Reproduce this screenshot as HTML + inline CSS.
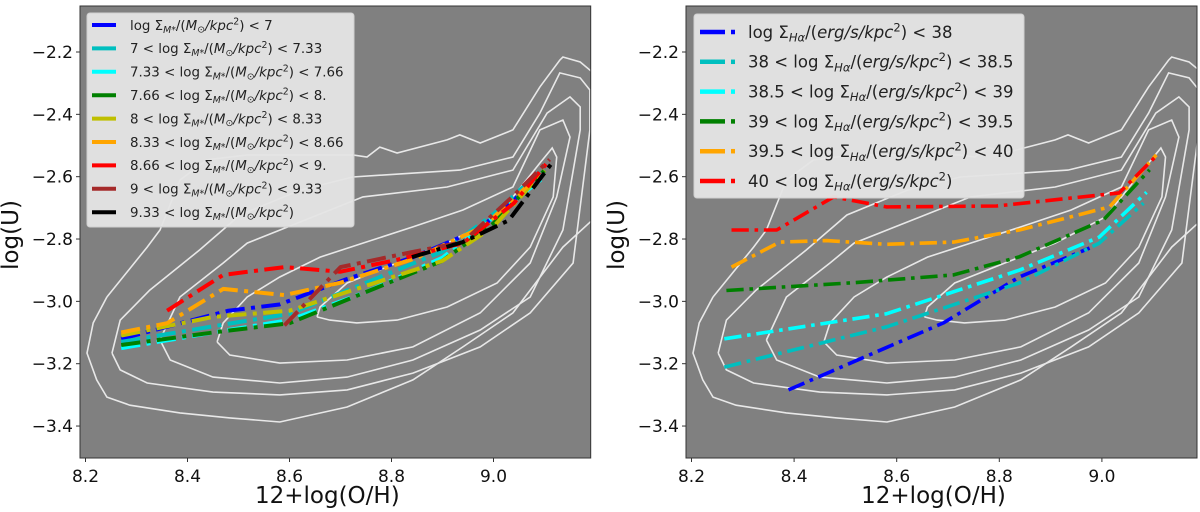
<!DOCTYPE html>
<html><head><meta charset="utf-8">
<style>
html,body{margin:0;padding:0;background:#fff;}
svg{display:block;font-family:"DejaVu Sans","Liberation Sans",sans-serif;}
</style></head>
<body>
<svg id="fig" width="1200" height="512" viewBox="0 0 1200 512" xmlns="http://www.w3.org/2000/svg">
<g id="left"></g>
<g id="right"></g>
</svg>
<script>
// ---- data ----
const xTicks = [8.2, 8.4, 8.6, 8.8, 9.0];
const xTickLabels = ["8.2", "8.4", "8.6", "8.8", "9.0"];
const yTicks = [-2.2, -2.4, -2.6, -2.8, -3.0, -3.2, -3.4];
const yTickLabels = ["\u22122.2", "\u22122.4", "\u22122.6", "\u22122.8", "\u22123.0", "\u22123.2", "\u22123.4"];

const contour1 = [[8.242,-2.986],[8.321,-2.826],[8.346,-2.771],[8.385,-2.611],[8.438,-2.546],[8.517,-2.530],[8.724,-2.530],[8.752,-2.537],[8.777,-2.505],[8.811,-2.524],[8.909,-2.482],[8.934,-2.466],[8.974,-2.492],[9.038,-2.450],[9.091,-2.312],[9.130,-2.226],[9.136,-2.216],[9.170,-2.232],[9.22,-2.30],[9.22,-2.70],[9.136,-2.826],[9.038,-3.037],[8.940,-3.146],[8.842,-3.252],[8.713,-3.339],[8.581,-3.387],[8.483,-3.374],[8.385,-3.358],[8.287,-3.333],[8.242,-3.307],[8.222,-3.252],[8.203,-3.166],[8.215,-3.069],[8.242,-2.986]];
const contour2 = [[8.252,-3.166],[8.268,-3.060],[8.326,-2.964],[8.424,-2.835],[8.503,-2.723],[8.621,-2.643],[8.724,-2.601],[8.934,-2.579],[9.038,-2.537],[9.091,-2.396],[9.130,-2.267],[9.170,-2.283],[9.189,-2.322],[9.189,-2.450],[9.156,-2.877],[9.072,-3.037],[8.974,-3.146],[8.842,-3.230],[8.713,-3.284],[8.581,-3.300],[8.450,-3.291],[8.321,-3.262],[8.268,-3.220],[8.252,-3.166]];
const contour3 = [[8.346,-3.124],[8.385,-2.986],[8.470,-2.877],[8.517,-2.813],[8.646,-2.729],[8.744,-2.665],[8.909,-2.633],[9.038,-2.579],[9.105,-2.396],[9.150,-2.344],[9.170,-2.376],[9.170,-2.450],[9.136,-2.771],[9.072,-2.986],[8.974,-3.092],[8.842,-3.188],[8.713,-3.243],[8.581,-3.262],[8.450,-3.243],[8.366,-3.188],[8.346,-3.124]];
const contour4 = [[8.458,-3.130],[8.470,-3.069],[8.517,-2.986],[8.581,-2.922],[8.660,-2.858],[8.744,-2.813],[8.842,-2.761],[8.940,-2.707],[9.038,-2.633],[9.091,-2.450],[9.136,-2.418],[9.150,-2.473],[9.124,-2.665],[9.072,-2.877],[8.974,-3.037],[8.842,-3.146],[8.713,-3.188],[8.581,-3.198],[8.483,-3.172],[8.458,-3.130]];
const contour5 = [[8.654,-3.050],[8.660,-3.018],[8.713,-2.941],[8.811,-2.877],[8.909,-2.813],[9.007,-2.729],[9.091,-2.556],[9.115,-2.508],[9.124,-2.537],[9.117,-2.665],[9.072,-2.826],[9.007,-2.941],[8.909,-3.018],[8.811,-3.060],[8.732,-3.069],[8.679,-3.060],[8.654,-3.050]];
const contours = [contour1, contour2, contour3, contour4, contour5];

// label token syntax: segments split by "|"; prefix s: subscript italic, p: superscript, o: odot subscript, i: italic
const mLabels = ["log \u03A3|s:M*|/(|i:M|o:\u2299|i:/kpc|p:2|) < 7","7 < log \u03A3|s:M*|/(|i:M|o:\u2299|i:/kpc|p:2|) < 7.33","7.33 < log \u03A3|s:M*|/(|i:M|o:\u2299|i:/kpc|p:2|) < 7.66","7.66 < log \u03A3|s:M*|/(|i:M|o:\u2299|i:/kpc|p:2|) < 8.","8 < log \u03A3|s:M*|/(|i:M|o:\u2299|i:/kpc|p:2|) < 8.33","8.33 < log \u03A3|s:M*|/(|i:M|o:\u2299|i:/kpc|p:2|) < 8.66","8.66 < log \u03A3|s:M*|/(|i:M|o:\u2299|i:/kpc|p:2|) < 9.","9 < log \u03A3|s:M*|/(|i:M|o:\u2299|i:/kpc|p:2|) < 9.33","9.33 < log \u03A3|s:M*|/(|i:M|o:\u2299|i:/kpc|p:2|)"];
const mColors = ["#0000ff","#00bfbf","#00ffff","#008000","#bfbf00","#ffa500","#ff0000","#a52a2a","#000000"];
const m0x = [8.27,8.48,8.58,8.71,8.84,8.97,9.05];
const m0y = [-3.12,-3.03,-3.01,-2.93,-2.86,-2.77,-2.66];
const m1x = [8.27,8.45,8.60,8.75,8.90,9.00,9.10];
const m1y = [-3.13,-3.08,-3.04,-2.94,-2.84,-2.72,-2.57];
const m2x = [8.27,8.45,8.60,8.75,8.90,9.00,9.10];
const m2y = [-3.15,-3.10,-3.06,-2.97,-2.86,-2.73,-2.60];
const m3x = [8.27,8.45,8.60,8.75,8.90,9.00,9.10];
const m3y = [-3.14,-3.10,-3.07,-2.97,-2.87,-2.75,-2.58];
const m4x = [8.27,8.45,8.60,8.75,8.90,9.00,9.10];
const m4y = [-3.11,-3.05,-3.03,-2.95,-2.87,-2.76,-2.58];
const m5x = [8.27,8.36,8.47,8.59,8.70,8.85,8.98,9.08];
const m5y = [-3.10,-3.07,-2.96,-2.98,-2.94,-2.86,-2.76,-2.61];
const m6x = [8.36,8.47,8.59,8.70,8.81,8.94,9.04,9.11];
const m6y = [-3.03,-2.915,-2.89,-2.905,-2.867,-2.813,-2.685,-2.546];
const m7x = [8.59,8.70,8.84,8.94,9.04,9.11];
const m7y = [-3.077,-2.89,-2.842,-2.81,-2.66,-2.545];
const m8x = [8.84,8.94,9.03,9.115];
const m8y = [-2.858,-2.81,-2.74,-2.555];
const mSeries = [[m0x,m0y],[m1x,m1y],[m2x,m2y],[m3x,m3y],[m4x,m4y],[m5x,m5y],[m6x,m6y],[m7x,m7y],[m8x,m8y]];

const hLabels = ["log \u03A3|s:H\u03B1|/(|i:erg/s/kpc|p:2|) < 38","38 < log \u03A3|s:H\u03B1|/(|i:erg/s/kpc|p:2|) < 38.5","38.5 < log \u03A3|s:H\u03B1|/(|i:erg/s/kpc|p:2|) < 39","39 < log \u03A3|s:H\u03B1|/(|i:erg/s/kpc|p:2|) < 39.5","39.5 < log \u03A3|s:H\u03B1|/(|i:erg/s/kpc|p:2|) < 40","40 < log \u03A3|s:H\u03B1|/(|i:erg/s/kpc|p:2|)"];
const hColors = ["#0000ff","#00bfbf","#00ffff","#008000","#ffa500","#ff0000"];
const h0x = [8.389,8.691,8.839,8.976];
const h0y = [-3.284,-3.069,-2.922,-2.829];
const h1x = [8.264,8.58,8.839,8.995,9.081];
const h1y = [-3.211,-3.082,-2.941,-2.813,-2.685];
const h2x = [8.264,8.58,8.839,8.995,9.087];
const h2y = [-3.12,-3.04,-2.90,-2.794,-2.65];
const h3x = [8.268,8.516,8.711,8.839,9.003,9.093];
const h3y = [-2.965,-2.94,-2.915,-2.857,-2.739,-2.578];
const h4x = [8.278,8.372,8.463,8.58,8.711,8.839,9.015,9.106];
const h4y = [-2.89,-2.81,-2.805,-2.817,-2.81,-2.771,-2.697,-2.53];
const h5x = [8.278,8.366,8.477,8.58,8.795,9.034,9.11];
const h5y = [-2.771,-2.771,-2.665,-2.697,-2.694,-2.652,-2.527];
const hSeries = [[h0x,h0y],[h1x,h1y],[h2x,h2y],[h3x,h3y],[h4x,h4y],[h5x,h5y]];

// ---- drawing ----
const NS = "http://www.w3.org/2000/svg";
function mk(tag, attrs, parent){
  const e = document.createElementNS(NS, tag);
  for (const k in attrs) e.setAttribute(k, attrs[k]);
  parent.appendChild(e);
  return e;
}
const Y0 = 6, Y1 = 458;
function yScale(v){ return 52 + (-2.2 - v) * 311.7; }

function fillLabel(tx, lab, fs){
  let base = 0;
  lab.split("|").forEach(seg => {
    const ts = document.createElementNS(NS, "tspan");
    let txt = seg, off = 0, size = fs, ital = false;
    if (seg.startsWith("s:")){ txt = seg.slice(2); off = fs*0.22; size = fs*0.7; ital = true; }
    else if (seg.startsWith("p:")){ txt = seg.slice(2); off = -fs*0.4; size = fs*0.7; }
    else if (seg.startsWith("o:")){ txt = seg.slice(2); off = fs*0.2; size = fs*0.7; }
    else if (seg.startsWith("i:")){ txt = seg.slice(2); ital = true; }
    ts.textContent = txt;
    ts.setAttribute("dy", off - base);
    base = off;
    if (size !== fs) ts.setAttribute("font-size", size);
    if (ital) ts.setAttribute("font-style", "italic");
    tx.appendChild(ts);
  });
}

function drawPanel(g, left, right, tick82, unit, seriesList, colors, labels, leg, prefix){
  const xScale = v => tick82 + (v - 8.2) * unit;
  const clipId = prefix + "-clip";
  const defs = mk("defs", {}, g);
  const cp = mk("clipPath", {id: clipId}, defs);
  mk("rect", {x:left, y:Y0, width:right-left, height:Y1-Y0}, cp);
  const bg = mk("rect", {x:left, y:Y0, width:right-left, height:Y1-Y0, fill:"#808080"}, g);
  
  
  const plot = mk("g", {"clip-path":"url(#"+clipId+")"}, g);
  contours.forEach(c => {
    const p = mk("polyline", {points: c.map(q => xScale(q[0]).toFixed(1)+","+yScale(q[1]).toFixed(1)).join(" "), fill:"none", stroke:"#e8e8e8", "stroke-width":1.6}, plot);
    
    
  });
  const lw = prefix === "left" ? 4 : 3.6;
  const dash = (6.4*lw*0.75)+","+(1.6*lw)+","+(lw)+","+(1.6*lw);
  seriesList.forEach((s, i) => {
    const pts = s[0].map((x, j) => xScale(x).toFixed(1)+","+yScale(s[1][j]).toFixed(1)).join(" ");
    const p = mk("polyline", {points: pts, fill:"none", stroke: colors[i], "stroke-width": lw, "stroke-dasharray": dash, "stroke-linejoin":"round"}, plot);
    
    
  });
  const sp = mk("rect", {x:left, y:Y0, width:right-left, height:Y1-Y0, fill:"none", stroke:"#333", "stroke-width":1}, g);
  
  
  xTicks.forEach((t, i) => {
    const x = xScale(t);
    mk("line", {x1:x, x2:x, y1:Y1, y2:Y1+4, stroke:"#333", "stroke-width":1}, g);
    const tx = mk("text", {x:x, y:Y1+24, "text-anchor":"middle", "font-size":17, fill:"#111"}, g);
    tx.textContent = xTickLabels[i];
    
    
  });
  yTicks.forEach((t, i) => {
    const y = yScale(t);
    mk("line", {x1:left-4, x2:left, y1:y, y2:y, stroke:"#333", "stroke-width":1}, g);
    const tx = mk("text", {x:left-7, y:y+6, "text-anchor":"end", "font-size":17, fill:"#111"}, g);
    tx.textContent = yTickLabels[i];
    
    
  });
  const xl = mk("text", {x:(left+right)/2 - 8, y:503, "text-anchor":"middle", "font-size":23, fill:"#111"}, g);
  xl.textContent = "12+log(O/H)";
  
  
  const yx = left - 62, yy = 235;
  const yl = mk("text", {x:yx, y:yy, "text-anchor":"middle", "font-size":23, fill:"#111", transform:"rotate(-90 "+yx+" "+yy+")"}, g);
  yl.textContent = "log(U)";
  
  
  const lg = mk("g", {}, g);
  
  
  mk("rect", {x:leg.x, y:leg.y, width:leg.w, height:leg.h, rx:3, fill:"#e5e5e5", "fill-opacity":0.95, stroke:"#d0d0d0", "stroke-width":1}, lg);
  labels.forEach((lab, i) => {
    const cy = leg.row0 + i*leg.dy;
    const e = mk("g", {}, lg);
    
    
    if (leg.dashed){
      mk("line", {x1:leg.sx, x2:leg.sx+25, y1:cy, y2:cy, stroke:colors[i], "stroke-width":4.5}, e);
      mk("line", {x1:leg.sx+31, x2:leg.sx+35, y1:cy, y2:cy, stroke:colors[i], "stroke-width":4.5}, e);
    } else {
      mk("line", {x1:leg.sx, x2:leg.sx+24, y1:cy, y2:cy, stroke:colors[i], "stroke-width":4}, e);
    }
    const tx = mk("text", {x:leg.tx, y:cy+leg.fs*0.36, "font-size":leg.fs, fill:"#222"}, e);
    fillLabel(tx, lab, leg.fs);
  });
}

drawPanel(document.getElementById("left"), 80, 590.7, 85.5, 510, mSeries, mColors, mLabels,
  {x:87, y:13, w:267, h:214, row0:25, dy:23.4, sx:92, tx:130, fs:13.4, dashed:false}, "left");
drawPanel(document.getElementById("right"), 686, 1197, 691.5, 513, hSeries, hColors, hLabels,
  {x:694, y:14, w:330, h:184, row0:32, dy:29.8, sx:700, tx:748, fs:16.5, dashed:true}, "right");
</script>
</body></html>
